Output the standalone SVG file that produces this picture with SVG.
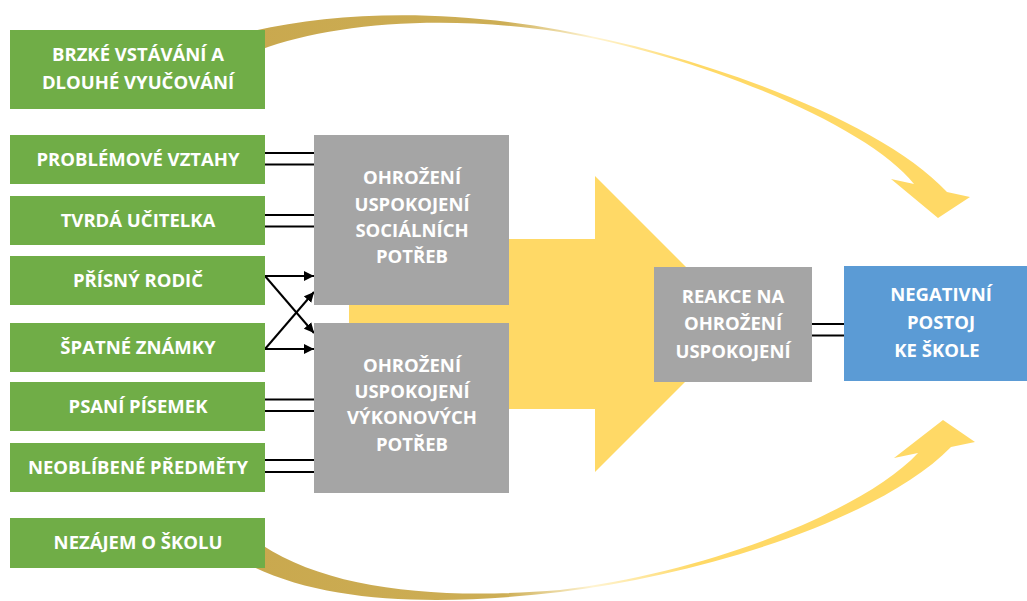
<svg xmlns="http://www.w3.org/2000/svg" width="1027" height="601" viewBox="0 0 1027 601">
  <defs>
    <linearGradient id="swoosh" gradientUnits="userSpaceOnUse" x1="240" y1="0" x2="975" y2="0">
      <stop offset="0" stop-color="#C9A84E"/>
      <stop offset="0.36" stop-color="#CDAE55"/>
      <stop offset="0.48" stop-color="#FFF4D2"/>
      <stop offset="0.62" stop-color="#FFD966"/>
      <stop offset="1" stop-color="#FFD966"/>
    </linearGradient>
    <marker id="head" viewBox="0 0 10 10" refX="10" refY="5" markerWidth="5" markerHeight="5" markerUnits="strokeWidth" orient="auto">
      <path d="M0,0 L10,5 L0,10 Z" fill="#000"/>
    </marker>
  </defs>
  <style>
    .green { fill: #70AD47; }
    .gray { fill: #A5A5A5; }
    .blue { fill: #5B9BD5; }
    .label { font-family: "Open Sans", "Noto Sans", sans-serif; font-weight: bold; font-size: 18.5px; fill: #FFFFFF; text-anchor: middle; }
    .link { stroke: #000; stroke-width: 2; fill: none; }
  </style>

  <rect width="1027" height="601" fill="#FFFFFF"/>

  <!-- background arrows -->
  <g id="flow-arrow">
    <polygon points="349,239 595,239 595,176 743,324 595,472 595,409 349,409" fill="#FFD966"/>
  </g>
  <g id="feedback-top">
    <path fill="url(#swoosh)" d="M245,33 C330,12 440,8 560,30 C700,55 880,120 947,192 L970,197 L938,218 L891,179 L914,184 C870,128 710,58 560,32 C440,14 330,24 260,50 Z"/>
  </g>
  <g id="feedback-bottom">
    <path fill="url(#swoosh)" d="M240,560 C320,605 440,606 560,592 C700,575 880,520 951,447 L975,442 L943,420 L894,458 L918,453 C865,510 710,572 560,590 C440,600 330,590 262,545 Z"/>
  </g>

  <!-- connectors -->
  <g id="connectors">
    <line class="link" x1="265" y1="153" x2="314" y2="153"/>
    <line class="link" x1="265" y1="164.5" x2="314" y2="164.5"/>
    <line class="link" x1="265" y1="215" x2="314" y2="215"/>
    <line class="link" x1="265" y1="226.5" x2="314" y2="226.5"/>
    <line class="link" x1="265" y1="276" x2="314" y2="276" marker-end="url(#head)"/>
    <line class="link" x1="265" y1="276" x2="314" y2="333" marker-end="url(#head)"/>
    <line class="link" x1="265" y1="349" x2="314" y2="349" marker-end="url(#head)"/>
    <line class="link" x1="265" y1="349" x2="314" y2="292" marker-end="url(#head)"/>
    <line class="link" x1="265" y1="399.5" x2="314" y2="399.5"/>
    <line class="link" x1="265" y1="411" x2="314" y2="411"/>
    <line class="link" x1="265" y1="460" x2="314" y2="460"/>
    <line class="link" x1="265" y1="472" x2="314" y2="472"/>
    <line class="link" x1="812" y1="324" x2="844" y2="324"/>
    <line class="link" x1="812" y1="335.5" x2="844" y2="335.5"/>
  </g>

  <!-- causes -->
  <g id="brzke-vstavani">
    <rect class="green" x="10" y="30" width="255" height="79"/>
    <text class="label" x="138" y="61">BRZKÉ VSTÁVÁNÍ A</text>
    <text class="label" x="138" y="88.5">DLOUHÉ VYUČOVÁNÍ</text>
  </g>
  <g id="problemove-vztahy">
    <rect class="green" x="10" y="135" width="255" height="49"/>
    <text class="label" x="138" y="166">PROBLÉMOVÉ VZTAHY</text>
  </g>
  <g id="tvrda-ucitelka">
    <rect class="green" x="10" y="196" width="255" height="49"/>
    <text class="label" x="138" y="227">TVRDÁ UČITELKA</text>
  </g>
  <g id="prisny-rodic">
    <rect class="green" x="10" y="256" width="255" height="49"/>
    <text class="label" x="138" y="286.5">PŘÍSNÝ RODIČ</text>
  </g>
  <g id="spatne-znamky">
    <rect class="green" x="10" y="323" width="255" height="49"/>
    <text class="label" x="138" y="353.5">ŠPATNÉ ZNÁMKY</text>
  </g>
  <g id="psani-pisemek">
    <rect class="green" x="10" y="382" width="255" height="49"/>
    <text class="label" x="138" y="412.5">PSANÍ PÍSEMEK</text>
  </g>
  <g id="neoblibene-predmety">
    <rect class="green" x="10" y="443" width="255" height="49"/>
    <text class="label" x="138" y="474">NEOBLÍBENÉ PŘEDMĚTY</text>
  </g>
  <g id="nezajem-o-skolu">
    <rect class="green" x="10" y="518" width="255" height="50"/>
    <text class="label" x="138" y="549">NEZÁJEM O ŠKOLU</text>
  </g>

  <!-- threatened needs -->
  <g id="socialni-potreby">
    <rect class="gray" x="314" y="135" width="195" height="170"/>
    <text class="label" x="412" y="184">OHROŽENÍ</text>
    <text class="label" x="412" y="210.5">USPOKOJENÍ</text>
    <text class="label" x="412" y="236.5">SOCIÁLNÍCH</text>
    <text class="label" x="412" y="263">POTŘEB</text>
  </g>
  <g id="vykonove-potreby">
    <rect class="gray" x="314" y="323" width="195" height="170"/>
    <text class="label" x="412" y="371.5">OHROŽENÍ</text>
    <text class="label" x="412" y="398">USPOKOJENÍ</text>
    <text class="label" x="412" y="424">VÝKONOVÝCH</text>
    <text class="label" x="412" y="450.5">POTŘEB</text>
  </g>

  <!-- outcome -->
  <g id="reakce">
    <rect class="gray" x="654" y="267" width="158" height="115"/>
    <text class="label" x="733" y="302.5">REAKCE NA</text>
    <text class="label" x="733" y="330">OHROŽENÍ</text>
    <text class="label" x="733" y="357.5">USPOKOJENÍ</text>
  </g>
  <g id="negativni-postoj">
    <rect class="blue" x="844" y="266" width="183" height="115"/>
    <text class="label" x="941" y="300.5">NEGATIVNÍ</text>
    <text class="label" x="941" y="329">POSTOJ</text>
    <text class="label" x="937" y="356.5">KE ŠKOLE</text>
  </g>
</svg>
